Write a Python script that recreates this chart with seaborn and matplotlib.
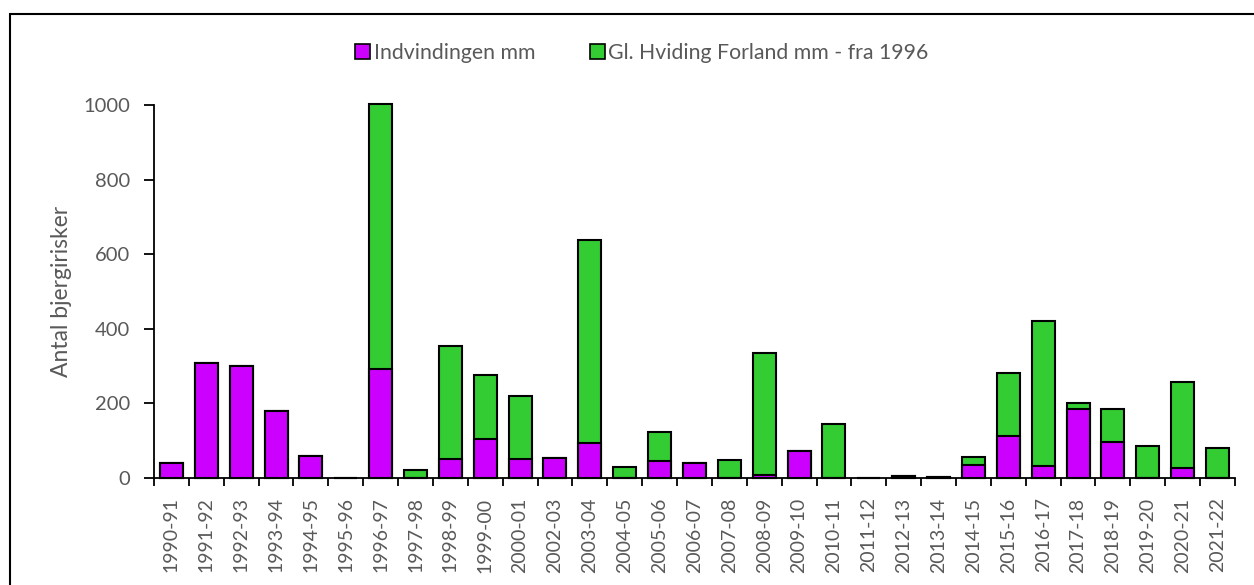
import matplotlib
matplotlib.use("Agg")
import matplotlib.pyplot as plt
from matplotlib.patches import Rectangle, Patch
import seaborn as sns
import pandas as pd
import numpy as np

seasons = ["1990-91", "1991-92", "1992-93", "1993-94", "1994-95", "1995-96",
           "1996-97", "1997-98", "1998-99", "1999-00", "2000-01", "2002-03",
           "2003-04", "2004-05", "2005-06", "2006-07", "2007-08", "2008-09",
           "2009-10", "2010-11", "2011-12", "2012-13", "2013-14", "2014-15",
           "2015-16", "2016-17", "2017-18", "2018-19", "2019-20", "2020-21",
           "2021-22"]
indvindingen = [40, 309, 299, 180, 60, 0, 291, 0, 51, 105, 51, 54,
                95, 0, 46, 39, 0, 9, 72, 0, 0, 5, 3, 34,
                113, 31, 186, 97, 0, 28, 0]
hviding = [0, 0, 0, 0, 0, 0, 713, 21, 304, 171, 169, 0,
           544, 30, 78, 0, 48, 327, 0, 146, 0, 0, 0, 22,
           168, 391, 14, 88, 86, 229, 81]

label_purple = "Indvindingen mm"
label_green = "Gl. Hviding Forland mm - fra 1996"
purple = "#cc00ff"
green = "#33cc33"
grey = "#595959"

df = pd.DataFrame({"season": seasons, "purple": indvindingen, "green": hviding})
df["total"] = df["purple"] + df["green"]

sns.set_style("white")
plt.rcParams["font.family"] = ["Lato", "DejaVu Sans"]

fig = plt.figure(figsize=(12.54, 5.85), dpi=100)
ax = fig.add_axes([0.1228, 0.1829, 0.862, 0.6376])

# green = total height, purple drawn over it -> stacked look
sns.barplot(data=df, x="season", y="total", color=green, saturation=1,
            edgecolor="black", linewidth=1.5, width=0.66, ax=ax)
sns.barplot(data=df, x="season", y="purple", color=purple, saturation=1,
            edgecolor="black", linewidth=1.5, width=0.66, ax=ax)
for p in ax.patches:
    p.set_clip_on(False)

ax.set_xlim(-0.5, len(seasons) - 0.5)
ax.set_ylim(0, 1000)
ax.set_yticks(range(0, 1001, 200))
ax.set_xlabel("")
ax.set_ylabel("Antal bjergirisker", fontsize=16.5, color=grey, labelpad=8)

ax.set_xticks(range(len(seasons)))
ax.set_xticklabels(seasons, rotation=90, fontsize=14, color=grey)
ax.set_xticks(np.arange(-0.5, len(seasons), 1.0), minor=True)
ax.tick_params(axis="x", which="major", length=0, pad=14)
ax.tick_params(axis="x", which="minor", length=6, width=1.3, color="black",
               direction="out", bottom=True)
ax.tick_params(axis="y", length=7, width=1.3, color="black", direction="out",
               labelsize=14.5, labelcolor=grey, left=True, pad=10)

sns.despine(ax=ax)
for side in ["left", "bottom"]:
    ax.spines[side].set_color("black")
    ax.spines[side].set_linewidth(1.3)

handles = [Patch(facecolor=purple, edgecolor="black", linewidth=1.2, label=label_purple),
           Patch(facecolor=green, edgecolor="black", linewidth=1.2, label=label_green)]
fig.legend(handles=handles, loc="center", bbox_to_anchor=(0.512, 0.91), ncol=2,
           frameon=False, fontsize=15.3, labelcolor=grey, handlelength=0.7,
           handleheight=0.7, handletextpad=0.15, columnspacing=2.6)

fig.patches.append(Rectangle((10 / 1254, -0.1), 1.2, 1 - 14 / 585 + 0.1,
                             transform=fig.transFigure, fill=False,
                             edgecolor="black", linewidth=1.5))

fig.savefig("out.png", dpi=100)
